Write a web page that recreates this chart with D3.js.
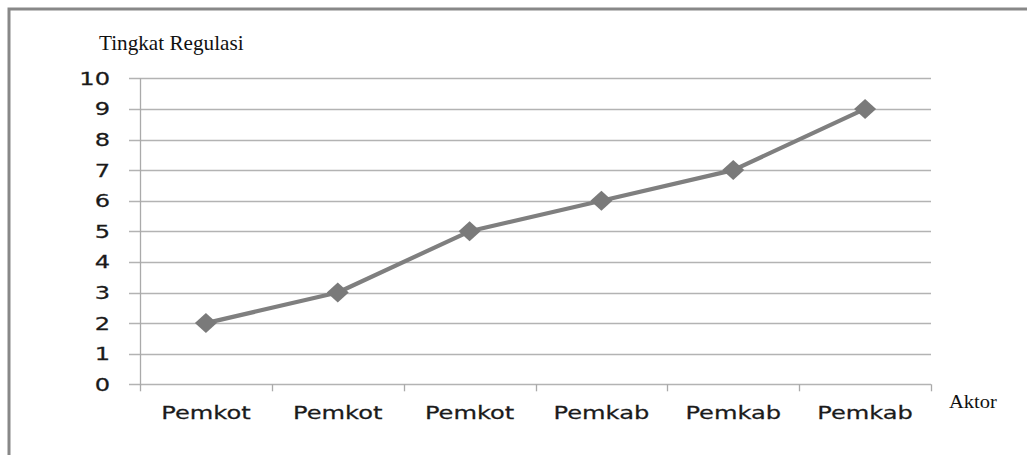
<!DOCTYPE html>
<html><head><meta charset="utf-8">
<script src="https://cdn.jsdelivr.net/npm/d3@7"></script>
<style>body{margin:0;background:#fff;}svg{display:block;}</style>
</head><body>
<script>
const categories = ["Pemkot","Pemkot","Pemkot","Pemkab","Pemkab","Pemkab"];
const values = [2,3,5,6,7,9];
const yTicks = [0,1,2,3,4,5,6,7,8,9,10];
const yTitle = "Tingkat Regulasi";
const xTitle = "Aktor";

(function(){
const W = 1027, H = 455;
const svg = d3.select("body").append("svg").attr("width", W).attr("height", H);

// outer frame
svg.append("path").attr("d", `M9,${H+5} L9,9 L${W+5},9`)
  .attr("fill","none").attr("stroke","#888").attr("stroke-width",3);

const pL = 140, pR = 931, pT = 78.3, pB = 384.3;
const x = d3.scaleBand().domain(d3.range(categories.length)).range([pL, pR]);
const y = d3.scaleLinear().domain([0,10]).range([pB, pT]);

// gridlines
svg.append("g").selectAll("line").data(yTicks).join("line")
  .attr("x1", pL-11).attr("x2", pR)
  .attr("y1", d=>Math.round(y(d))+0.5).attr("y2", d=>Math.round(y(d))+0.5)
  .attr("stroke","#b3b3b3").attr("stroke-width",1.3);

// y axis line
svg.append("line").attr("x1",pL+0.5).attr("x2",pL+0.5).attr("y1",pT).attr("y2",pB+1)
  .attr("stroke","#aaa").attr("stroke-width",1.3);

// x ticks
const xt = d3.range(categories.length+1).map(i => pL + i*x.bandwidth());
svg.append("g").selectAll("line").data(xt).join("line")
  .attr("x1", d=>Math.round(d)+0.5).attr("x2", d=>Math.round(d)+0.5)
  .attr("y1", pB).attr("y2", pB+7)
  .attr("stroke","#aaa").attr("stroke-width",1.3);

const sx = 1.38;
// y tick labels
svg.append("g").selectAll("text").data(yTicks).join("text")
  .attr("transform", d=>`translate(110,${y(d)+6.5}) scale(${sx},1)`)
  .attr("text-anchor","end")
  .attr("font-family","DejaVu Sans").attr("font-size",17.5).attr("fill","#1a1a1a")
  .attr("stroke","#1a1a1a").attr("stroke-width",0.25)
  .text(d=>d);

// x tick labels
svg.append("g").selectAll("text").data(categories).join("text")
  .attr("transform", (d,i)=>`translate(${x(i)+x.bandwidth()/2},419) scale(${sx},1)`)
  .attr("text-anchor","middle")
  .attr("font-family","DejaVu Sans").attr("font-size",17.5).attr("fill","#1a1a1a")
  .attr("stroke","#1a1a1a").attr("stroke-width",0.25)
  .text(d=>d);

// titles
svg.append("text").attr("transform","translate(99,50) scale(1.06,1)")
  .attr("font-family","Liberation Serif").attr("font-size",20).attr("fill","#111")
  .text(yTitle);
svg.append("text").attr("transform","translate(949,408) scale(1.08,1)")
  .attr("font-family","Liberation Serif").attr("font-size",19).attr("fill","#111")
  .text(xTitle);

// line
const line = d3.line().x((d,i)=>x(i)+x.bandwidth()/2).y(d=>y(d));
svg.append("path").datum(values).attr("d", line)
  .attr("fill","none").attr("stroke","#7f7f7f").attr("stroke-width",4.2).attr("stroke-linejoin","round");

// markers
svg.append("g").selectAll("path").data(values).join("path")
  .attr("transform",(d,i)=>`translate(${x(i)+x.bandwidth()/2},${y(d)})`)
  .attr("d","M0,-10 L11,0 L0,10 L-11,0 Z")
  .attr("fill","#7a7a7a");
})();
</script>
</body></html>
